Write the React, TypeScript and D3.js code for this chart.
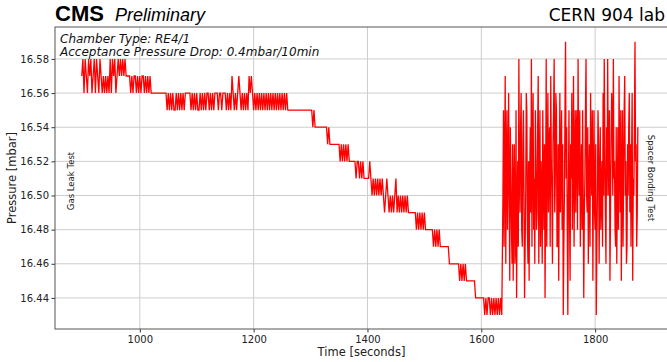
import React, { useEffect, useRef } from 'react';
import * as d3 from 'd3';

// gas leak readings: every 2 s from 898 s
const gasLeakStart = 898;
const gasLeakStep = 2;
// spacer bonding readings: every 1 s from 1638 s
const spacerStart = 1638;
const spacerStep = 1;

// gas leak test phase, pressure in mbar
const gasLeakPressure = [
  16.57, 16.58, 16.56, 16.58, 16.57, 16.56, 16.58, 16.57, 16.58, 16.56, 16.57, 16.58, 16.56, 16.58, 16.57, 16.56, 16.58,
  16.57, 16.56, 16.57, 16.56, 16.57, 16.56, 16.57, 16.56,
  16.58, 16.56, 16.58, 16.57, 16.58, 16.56,
  16.57, 16.58, 16.57, 16.58, 16.57, 16.58, 16.57, 16.58, 16.57,
  16.57, 16.57, 16.57,
  16.56, 16.57, 16.56, 16.57, 16.57, 16.56, 16.57, 16.56, 16.57, 16.56, 16.57, 16.57, 16.56, 16.57, 16.56, 16.57, 16.56, 16.57, 16.56, 16.56,
  16.56, 16.56, 16.56, 16.56, 16.56, 16.56, 16.56, 16.56, 16.56, 16.56, 16.56, 16.56,
  16.55, 16.56, 16.55, 16.56, 16.55, 16.56, 16.55, 16.55, 16.56, 16.55, 16.56, 16.55, 16.56, 16.55, 16.56, 16.55,
  16.56, 16.56, 16.56, 16.56, 16.56, 16.55, 16.56, 16.55, 16.56, 16.55, 16.56, 16.55, 16.55, 16.56, 16.55, 16.56,
  16.55, 16.56, 16.55, 16.56, 16.56, 16.55, 16.56, 16.55, 16.56, 16.55, 16.56, 16.56, 16.56, 16.55, 16.56,
  16.56, 16.55, 16.56, 16.56, 16.56,
  16.55, 16.56, 16.55, 16.56, 16.55, 16.57, 16.56, 16.55, 16.56, 16.55, 16.56, 16.57, 16.56, 16.55, 16.56, 16.55,
  16.56, 16.55, 16.56, 16.55, 16.57, 16.56, 16.57, 16.56, 16.55, 16.56, 16.55, 16.56, 16.55, 16.56, 16.55, 16.56,
  16.55, 16.56, 16.55, 16.56, 16.55, 16.56, 16.55, 16.56, 16.55, 16.56, 16.55, 16.56, 16.55, 16.56, 16.55, 16.56,
  16.55, 16.56, 16.55, 16.56, 16.55, 16.56, 16.55,
  16.55, 16.55, 16.55, 16.55, 16.55, 16.55, 16.55, 16.55, 16.55, 16.55, 16.55, 16.55, 16.55, 16.55, 16.55, 16.55,
  16.55, 16.55, 16.55, 16.55, 16.55,
  16.54, 16.55, 16.54, 16.54, 16.54, 16.54, 16.54, 16.54, 16.54, 16.54, 16.54, 16.54, 16.54, 16.53, 16.54,
  16.53, 16.53, 16.53, 16.53, 16.53, 16.53, 16.53, 16.53, 16.53,
  16.52, 16.53, 16.52, 16.53, 16.52, 16.53, 16.52, 16.53, 16.52,
  16.52, 16.52, 16.52, 16.52, 16.52, 16.51, 16.52, 16.52, 16.51, 16.52, 16.51, 16.52,
  16.51, 16.51, 16.51, 16.51, 16.51, 16.52, 16.51,
  16.50, 16.51, 16.50, 16.51, 16.50, 16.51, 16.50, 16.51, 16.50, 16.51, 16.50, 16.49, 16.50, 16.51, 16.50,
  16.49, 16.50, 16.49, 16.50, 16.49, 16.50, 16.51, 16.49, 16.50, 16.49, 16.50, 16.49, 16.50, 16.49, 16.50, 16.49,
  16.50, 16.49, 16.49,
  16.49, 16.49, 16.49, 16.49, 16.49,
  16.48, 16.49, 16.48, 16.49, 16.48, 16.49, 16.48, 16.49, 16.48, 16.48,
  16.48, 16.48, 16.48, 16.48, 16.48,
  16.47, 16.48, 16.47, 16.48, 16.47, 16.48, 16.47,
  16.47, 16.47, 16.47, 16.47, 16.47, 16.47, 16.47,
  16.46, 16.46, 16.46, 16.46, 16.46, 16.46, 16.46, 16.46, 16.46,
  16.45, 16.46, 16.45, 16.46, 16.45, 16.46, 16.45,
  16.45, 16.45, 16.45, 16.45, 16.45, 16.45, 16.45,
  16.44, 16.44, 16.44, 16.44, 16.44, 16.44, 16.44, 16.44,
  16.43, 16.44, 16.43, 16.44, 16.44, 16.43, 16.44, 16.43, 16.44, 16.43, 16.44, 16.43, 16.44, 16.43, 16.44, 16.43,
];

// spacer bonding phase, pressure in mbar
const spacerBondingPressure = [
  16.50, 16.55, 16.47, 16.52, 16.57, 16.46, 16.52, 16.55, 16.48, 16.51, 16.56, 16.50, 16.45, 16.54, 16.51, 16.48,
  16.46, 16.53, 16.45, 16.50, 16.53, 16.46, 16.47, 16.55, 16.44, 16.49, 16.52, 16.47, 16.58, 16.51, 16.49, 16.54,
  16.56, 16.48, 16.47, 16.53, 16.55, 16.50, 16.44, 16.47, 16.50, 16.56, 16.55, 16.48, 16.46, 16.52, 16.45, 16.51,
  16.54, 16.49, 16.58, 16.47, 16.53, 16.56, 16.48, 16.51, 16.46, 16.55, 16.52, 16.48, 16.49, 16.54, 16.57, 16.46,
  16.51, 16.55, 16.47, 16.52, 16.50, 16.46, 16.55, 16.51, 16.48, 16.53, 16.44, 16.50, 16.58, 16.47, 16.52, 16.56,
  16.49, 16.53, 16.54, 16.47, 16.57, 16.52, 16.50, 16.46, 16.53, 16.55, 16.58, 16.49, 16.51, 16.56, 16.55, 16.47,
  16.47, 16.53, 16.45, 16.51, 16.56, 16.49, 16.52, 16.55, 16.48, 16.53, 16.43, 16.47, 16.50, 16.55, 16.59, 16.51,
  16.54, 16.48, 16.43, 16.50, 16.55, 16.49, 16.45, 16.53, 16.51, 16.56, 16.48, 16.52, 16.57, 16.47, 16.52, 16.55,
  16.49, 16.54, 16.55, 16.48, 16.58, 16.52, 16.50, 16.55, 16.47, 16.51, 16.53, 16.48, 16.55, 16.50, 16.44, 16.49,
  16.51, 16.55, 16.58, 16.50, 16.49, 16.54, 16.46, 16.51, 16.53, 16.47, 16.56, 16.52, 16.50, 16.55, 16.45, 16.51,
  16.55, 16.49, 16.48, 16.53, 16.43, 16.47, 16.50, 16.55, 16.53, 16.46, 16.51, 16.54, 16.48, 16.50, 16.52, 16.47,
  16.56, 16.50, 16.58, 16.53, 16.49, 16.46, 16.54, 16.50, 16.58, 16.52, 16.50, 16.55, 16.45, 16.49, 16.53, 16.56,
  16.55, 16.50, 16.58, 16.51, 16.52, 16.48, 16.47, 16.54, 16.46, 16.50, 16.54, 16.48, 16.57, 16.52, 16.49, 16.55,
  16.45, 16.51, 16.55, 16.47, 16.51, 16.55, 16.57, 16.50, 16.52, 16.46, 16.47, 16.53, 16.50, 16.54, 16.56, 16.49,
  16.53, 16.47, 16.52, 16.56, 16.45, 16.51, 16.50, 16.54, 16.59, 16.52, 16.53, 16.47, 16.49, 16.54,
];

const xTicks = [1000, 1200, 1400, 1600, 1800];
const yTicks = [16.44, 16.46, 16.48, 16.50, 16.52, 16.54, 16.56, 16.58];

const W = 667;
const H = 362;

const App = () => {
  const ref = useRef<SVGSVGElement>(null);

  useEffect(() => {
    const svg = d3.select(ref.current);
    svg.selectAll('*').remove();

    const left = 55, top = 27, right = 668, bottom = 329;
    const x = d3.scaleLinear().domain([851, 1928]).range([left, right]);
    const y = d3.scaleLinear().domain([16.4218, 16.5987]).range([bottom, top]);

    const readings = gasLeakPressure.map((p, i) => ({ t: gasLeakStart + i * gasLeakStep, p }))
      .concat(spacerBondingPressure.map((p, i) => ({ t: spacerStart + i * spacerStep, p })));

    const font = 'DejaVu Sans, sans-serif';

    svg.append('defs').append('clipPath').attr('id', 'plot-clip')
      .append('rect').attr('x', left).attr('y', top).attr('width', right - left).attr('height', bottom - top);

    // grid
    const grid = svg.append('g').attr('stroke', '#cdcdcd').attr('stroke-width', 1);
    xTicks.forEach(t => {
      grid.append('line').attr('x1', x(t)).attr('x2', x(t)).attr('y1', top).attr('y2', bottom);
    });
    yTicks.forEach(v => {
      grid.append('line').attr('x1', left).attr('x2', right).attr('y1', y(v)).attr('y2', y(v));
    });

    // pressure trace
    const line = d3.line<{ t: number; p: number }>()
      .x(d => x(d.t))
      .y(d => y(d.p));

    svg.append('path')
      .datum(readings)
      .attr('clip-path', 'url(#plot-clip)')
      .attr('fill', 'none')
      .attr('stroke', '#ff0000')
      .attr('stroke-width', 1.3)
      .attr('d', line);

    // axes
    const xAxis = svg.append('g')
      .attr('transform', `translate(0,${bottom})`)
      .call(d3.axisBottom(x).tickValues(xTicks).tickSize(3.5).tickPadding(3).tickFormat(d3.format('d')));
    const yAxis = svg.append('g')
      .attr('transform', `translate(${left},0)`)
      .call(d3.axisLeft(y).tickValues(yTicks).tickSize(3.5).tickPadding(2.5).tickFormat(d3.format('.2f')));

    [xAxis, yAxis].forEach(a => {
      a.select('.domain').remove();
      a.selectAll('line').attr('stroke', '#333');
      a.selectAll('text').attr('fill', '#222').style('font-family', font).style('font-size', '10px');
    });

    // frame (right spine falls outside the picture)
    svg.append('rect')
      .attr('x', left).attr('y', top).attr('width', right - left).attr('height', bottom - top)
      .attr('fill', 'none').attr('stroke', '#555').attr('stroke-width', 1);

    svg.append('text')
      .attr('x', (left + right) / 2).attr('y', 356)
      .attr('text-anchor', 'middle')
      .style('font-family', font).style('font-size', '11.5px').attr('fill', '#222')
      .text('Time [seconds]');

    svg.append('text')
      .attr('transform', `translate(16,${(top + bottom) / 2}) rotate(-90)`)
      .attr('text-anchor', 'middle')
      .style('font-family', font).style('font-size', '11.5px').attr('fill', '#222')
      .text('Pressure [mbar]');

    // phase labels
    svg.append('text')
      .attr('transform', `translate(74,181) rotate(-90)`)
      .attr('text-anchor', 'middle')
      .style('font-family', font).style('font-size', '8.5px').attr('fill', '#222')
      .text('Gas Leak Test');

    svg.append('text')
      .attr('transform', `translate(648,178) rotate(90)`)
      .attr('text-anchor', 'middle')
      .style('font-family', font).style('font-size', '8.5px').attr('fill', '#222')
      .text('Spacer Bonding Test');

    // info box
    const info = svg.append('g')
      .style('font-family', font).style('font-size', '12px').style('font-style', 'italic').attr('fill', '#111');
    info.append('text').attr('x', 60).attr('y', 43).text('Chamber Type: RE4/1');
    info.append('text').attr('x', 60).attr('y', 55.5).text('Acceptance Pressure Drop: 0.4mbar/10min');

    // header
    svg.append('text')
      .attr('x', 55).attr('y', 21)
      .style('font-family', 'Liberation Sans, Arial, sans-serif').style('font-size', '22px').style('font-weight', 'bold')
      .attr('fill', '#000')
      .text('CMS');
    svg.append('text')
      .attr('x', 115).attr('y', 21)
      .style('font-family', 'Liberation Sans, Arial, sans-serif').style('font-size', '18px').style('font-style', 'italic')
      .attr('fill', '#000')
      .text('Preliminary');
    svg.append('text')
      .attr('x', 665).attr('y', 21)
      .attr('text-anchor', 'end')
      .style('font-family', font).style('font-size', '17px')
      .attr('fill', '#000')
      .text('CERN 904 lab');
  }, []);

  return (
    <svg ref={ref} width={W} height={H}
      style={{ position: 'absolute', left: 0, top: 0, background: '#fff' }} />
  );
};

export default App;
